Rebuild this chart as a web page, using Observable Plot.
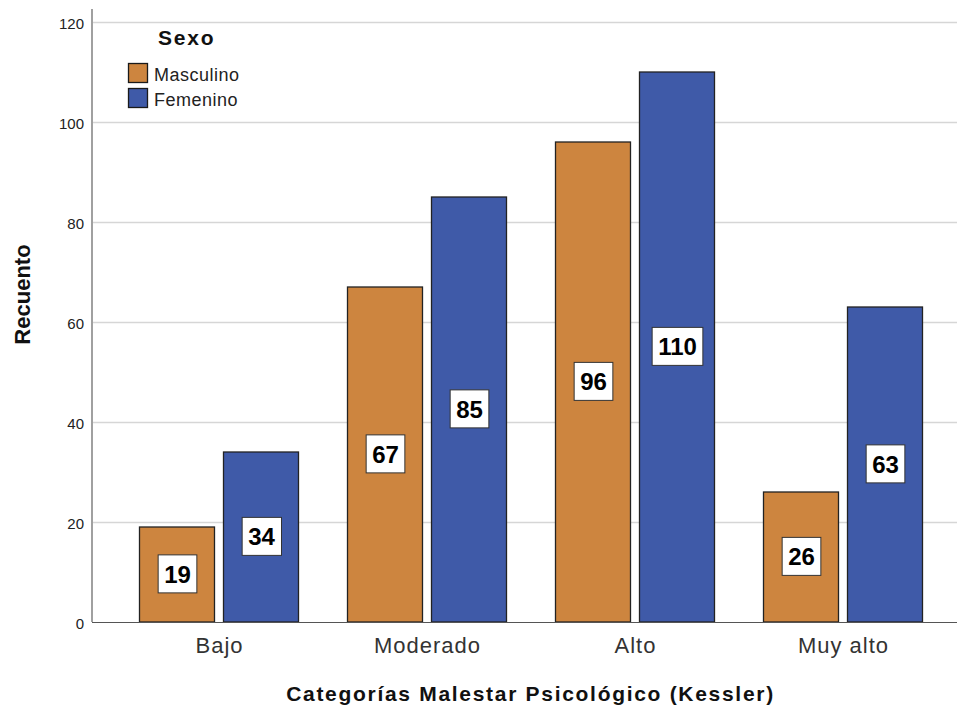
<!DOCTYPE html>
<html>
<head>
<meta charset="utf-8">
<script src="https://cdn.jsdelivr.net/npm/d3@7"></script>
<script src="https://cdn.jsdelivr.net/npm/@observablehq/plot@0.6"></script>
<style>
  html, body { margin: 0; padding: 0; background: #fff; }
  #chart svg { font-family: Arial, "Liberation Sans", sans-serif; }
</style>
</head>
<body>
<div id="chart"></div>
<script>
const categories = ["Bajo", "Moderado", "Alto", "Muy alto"];
const sexes = ["Masculino", "Femenino"];
const masculino = [19, 67, 96, 26];
const femenino = [34, 85, 110, 63];
const yTicks = [0, 20, 40, 60, 80, 100, 120];
const colors = ["#CD853F", "#3F5AA8"];
const xTitle = "Categorías Malestar Psicológico (Kessler)";
const yTitle = "Recuento";
const legendTitle = "Sexo";

const dataM = categories.map((c, i) => ({cat: c, sex: sexes[0], value: masculino[i]}));
const dataF = categories.map((c, i) => ({cat: c, sex: sexes[1], value: femenino[i]}));

const W = 957, H = 709;
const chart = Plot.plot({
  width: W,
  height: H,
  marginLeft: 92,
  marginRight: 0,
  marginTop: 22,
  marginBottom: 87,
  style: {fontFamily: "Arial, 'Liberation Sans', sans-serif", background: "#fff"},
  x: {domain: categories, paddingInner: 0, paddingOuter: 0.0793, align: 0.712, label: null},
  y: {domain: [0, 120], label: null},
  marks: [
    Plot.ruleY(yTicks.filter(d => d > 0), {stroke: "#d6d6d6", strokeWidth: 1.6}),
    Plot.barY(dataM, {x: "cat", y: "value", fill: colors[0], stroke: "#222", strokeWidth: 1.3, insetLeft: 24.5, insetRight: 108.5}),
    Plot.barY(dataF, {x: "cat", y: "value", fill: colors[1], stroke: "#222", strokeWidth: 1.3, insetLeft: 108.5, insetRight: 24.5}),
    Plot.ruleY([0], {stroke: "#555", strokeWidth: 1.2}),
    Plot.text(dataM, {x: "cat", y: d => d.value / 2, text: d => String(d.value), dx: -42, fontSize: 24, fontWeight: "bold", fill: "#000", className: "vlabel"}),
    Plot.text(dataF, {x: "cat", y: d => d.value / 2, text: d => String(d.value), dx: 42, fontSize: 24, fontWeight: "bold", fill: "#000", className: "vlabel"}),
    Plot.axisY({ticks: yTicks, tickSize: 0, tickPadding: 8.5, fontSize: 15, dy: 1.5, color: "#222", label: null}),
    Plot.axisX({tickSize: 0, tickPadding: 15, fontSize: 22, color: "#333", label: null, className: "xticks"}),
    Plot.text([xTitle], {frameAnchor: "bottom", lineAnchor: "middle", textAnchor: "middle", dy: 72, dx: 5.5, fontSize: 21, fontWeight: "bold", fill: "#111", className: "xtitle"}),
    Plot.text([yTitle], {frameAnchor: "left", textAnchor: "middle", lineAnchor: "middle", dx: -70, dy: -28, rotate: -90, fontSize: 22, fontWeight: "bold", fill: "#111"})
  ]
});
document.getElementById("chart").appendChild(chart);

const svg = d3.select(chart);
svg.selectAll("g.xticks text").style("letter-spacing", "1px");
svg.selectAll("g.xtitle text").style("letter-spacing", "1.7px");

// white boxes behind value labels
svg.selectAll("g.vlabel text").each(function() {
  const t = d3.select(this);
  const b = this.getBBox();
  const cx = b.x + b.width / 2;
  const cy = b.y + b.height / 2 - 0.3;
  const w = b.width + 12, h = 38;
  d3.select(this.parentNode).insert("rect", () => this)
    .attr("transform", t.attr("transform"))
    .attr("x", cx - w / 2).attr("y", cy - h / 2)
    .attr("width", w).attr("height", h)
    .attr("fill", "#fff").attr("stroke", "#333").attr("stroke-width", 1);
});

// y axis line
svg.append("line").attr("x1", 92).attr("x2", 92).attr("y1", 9).attr("y2", H - 87)
  .attr("stroke", "#a0a0a0").attr("stroke-width", 2);

// legend
const lg = svg.append("g").attr("text-anchor", "start").attr("font-family", "Arial, 'Liberation Sans', sans-serif");
lg.append("text").attr("x", 158).attr("y", 45).attr("font-size", 21).attr("font-weight", "bold")
  .attr("fill", "#111").style("letter-spacing", "1.8px").text(legendTitle);
sexes.forEach((s, i) => {
  const y0 = 63 + i * 25;
  lg.append("rect").attr("x", 128.5).attr("y", y0 + 0.5).attr("width", 19).attr("height", 19)
    .attr("fill", colors[i]).attr("stroke", "#1a1a1a").attr("stroke-width", 1.3);
  lg.append("text").attr("x", 154).attr("y", y0 + 18).attr("font-size", 18).attr("fill", "#222")
    .style("letter-spacing", "0.5px").text(s);
});
</script>
</body>
</html>
